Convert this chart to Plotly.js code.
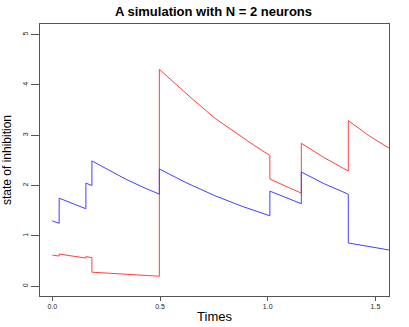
<!DOCTYPE html>
<html>
<head>
<meta charset="utf-8">
<script src="https://cdn.plot.ly/plotly-3.0.1.min.js"></script>
<style>html,body{margin:0;padding:0;background:#fff;}#chart{width:409px;height:327px;}</style>
</head>
<body>
<div id="chart"></div>
<script>
// Neuron 1 (red): times and state values
var timesRed = [0, 0.032, 0.032, 0.156, 0.156, 0.184, 0.184, 0.497, 0.497, 0.58, 0.645, 0.754, 0.877, 0.94, 1.010, 1.010, 1.156, 1.156, 1.26, 1.374, 1.374, 1.47, 1.565];
var stateRed = [0.62, 0.60, 0.64, 0.56, 0.59, 0.57, 0.28, 0.20, 4.31, 3.98, 3.74, 3.34, 2.97, 2.79, 2.60, 2.13, 1.85, 2.84, 2.56, 2.29, 3.29, 2.99, 2.74];
// Neuron 2 (blue)
var timesBlue = [0, 0.032, 0.032, 0.156, 0.156, 0.184, 0.184, 0.26, 0.34, 0.42, 0.497, 0.497, 0.62, 0.754, 0.88, 1.010, 1.010, 1.156, 1.156, 1.26, 1.374, 1.374, 1.565];
var stateBlue = [1.30, 1.25, 1.75, 1.54, 2.05, 2.00, 2.49, 2.31, 2.13, 1.97, 1.83, 2.33, 2.06, 1.80, 1.59, 1.40, 1.89, 1.64, 2.27, 2.04, 1.83, 0.86, 0.72];
// Tick labels
var xTicks = [0, 0.5, 1.0, 1.5];
var xTickText = ['0.0', '0.5', '1.0', '1.5'];
var yTicks = [0, 1, 2, 3, 4, 5];
var yTickText = ['0', '1', '2', '3', '4', '5'];

var traces = [
  {x: timesRed, y: stateRed, type: 'scatter', mode: 'lines', line: {color: '#ff4040', width: 1}, hoverinfo: 'none'},
  {x: timesBlue, y: stateBlue, type: 'scatter', mode: 'lines', line: {color: '#4040ff', width: 1}, hoverinfo: 'none'}
];

var layout = {
  width: 409, height: 327,
  margin: {l: 40, r: 20, t: 24, b: 31},
  paper_bgcolor: '#fff', plot_bgcolor: '#fff',
  showlegend: false,
  font: {family: 'Liberation Sans, Arial, sans-serif', color: '#000'},
  title: {text: '<b>A simulation with N = 2 neurons</b>', font: {size: 13, color: '#000'}, x: 0.522, xanchor: 'center', y: 0.965, yanchor: 'middle'},
  xaxis: {
    range: [-0.057, 1.563], showgrid: false, zeroline: false,
    showline: true, mirror: true, linecolor: '#555', linewidth: 1,
    ticks: 'outside', ticklen: 4, tickcolor: '#555',
    tickvals: xTicks, ticktext: xTickText, tickfont: {size: 7, color: '#222'},
    title: {text: 'Times', font: {size: 13, color: '#000'}, standoff: 2}
  },
  yaxis: {
    range: [-0.193, 5.21], showgrid: false, zeroline: false,
    showline: true, mirror: true, linecolor: '#555', linewidth: 1,
    ticks: 'outside', ticklen: 8, tickcolor: '#555',
    tickvals: yTicks, ticktext: yTickText, tickangle: -90, tickfont: {size: 7, color: '#222'},
    title: {text: 'state of inhibition', font: {size: 12, color: '#000'}, standoff: 10}
  }
};

Plotly.newPlot('chart', traces, layout, {staticPlot: true, displayModeBar: false});
</script>
</body>
</html>
